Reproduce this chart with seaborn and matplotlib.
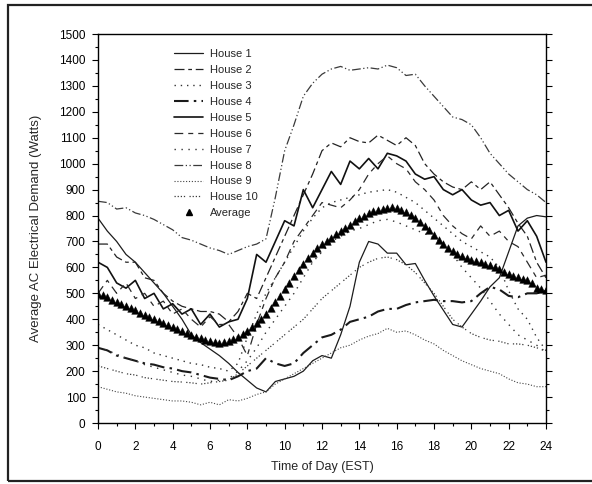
import numpy as np
import pandas as pd
import matplotlib
matplotlib.use("Agg")
import matplotlib.pyplot as plt
import seaborn as sns
from matplotlib.lines import Line2D
from matplotlib.patches import Rectangle
from matplotlib.ticker import MultipleLocator

# Half-hourly readings for each house, 00:00 to 24:00
hours = np.arange(0, 24.01, 0.5)
# Quarter-hourly grid for the fleet average
hours_avg = np.arange(0, 24.01, 0.25)

house_1 = [790, 740, 700, 650, 620, 580, 540, 500, 450, 400, 340, 310, 285, 260, 230, 195, 165, 135, 120, 160,
           170, 180, 200, 240, 260, 250, 340, 450, 620, 700, 690, 655, 655, 610, 615, 550, 490, 435, 380, 370,
           420, 470, 525, 560, 660, 760, 790, 800, 795]
house_2 = [690, 690, 640, 620, 620, 560, 550, 500, 470, 450, 440, 430, 430, 420, 390, 430, 500, 480, 560, 640,
           720, 800, 880, 960, 1050, 1080, 1065, 1100, 1085, 1080, 1110, 1090, 1070, 1100, 1070, 1000, 960, 930,
           910, 900, 930, 900, 930, 880, 830, 770, 720, 620, 560]
house_3 = [380, 360, 340, 320, 300, 290, 270, 260, 250, 240, 230, 225, 215, 210, 200, 230, 330, 420, 500, 560,
           620, 680, 740, 790, 830, 850, 860, 870, 880, 890, 895, 900, 890, 870, 850, 820, 790, 760, 730, 700,
           680, 660, 640, 600, 510, 440, 400, 330, 280]
house_4 = [290, 280, 260, 250, 240, 230, 225, 215, 210, 200, 195, 185, 175, 170, 165, 180, 200, 210, 250, 230,
           220, 230, 270, 300, 330, 340, 360, 390, 400, 410, 430, 440, 440, 455, 465, 470, 475, 470, 470, 465,
           470, 500, 525, 515, 490, 485, 500, 500, 510]
house_5 = [620, 600, 540, 520, 550, 480, 500, 440, 460, 420, 440, 380, 420, 370, 390, 400, 480, 650, 620, 700,
           780, 760, 900, 830, 900, 970, 920, 1010, 980, 1020, 980, 1040, 1030, 1010, 960, 940, 950, 900, 880,
           900, 860, 840, 850, 800, 820, 740, 780, 720, 620]
house_6 = [500, 550, 500, 540, 480, 500, 450, 470, 420, 440, 400, 370, 410, 380, 380, 330, 260, 380, 480, 560,
           620, 700, 750, 800, 850, 840, 830, 860, 900, 960, 1000, 1030, 1000, 980, 930, 900, 860, 800, 760, 730,
           710, 760, 720, 740, 700, 680, 620, 560, 570]
house_7 = [290, 280, 265, 250, 240, 225, 215, 205, 195, 185, 180, 170, 160, 165, 170, 200, 240, 290, 350, 400,
           450, 500, 560, 620, 660, 700, 720, 740, 750, 765, 780, 785, 775, 760, 745, 730, 715, 690, 650, 600,
           560, 520, 470, 420, 380, 340, 320, 300, 270]
house_8 = [855, 850, 825, 830, 810, 800, 785, 765, 745, 715, 705, 690, 675, 665, 650, 665, 680, 690, 710, 870,
           1050, 1150, 1260, 1310, 1345, 1365, 1375, 1360, 1365, 1370, 1365, 1380, 1370, 1340, 1345, 1300, 1260,
           1220, 1180, 1170, 1150, 1100, 1040, 1000, 960, 930, 900, 880, 850]
house_9 = [140, 130, 120, 115, 105, 100, 95, 90, 85, 85, 80, 70, 80, 70, 90, 85, 95, 110, 120, 150,
           170, 190, 210, 230, 250, 270, 290, 300, 320, 335, 345, 365, 350, 355, 340, 320, 305, 280, 260, 240,
           225, 210, 200, 190, 170, 155, 150, 140, 140]
house_10 = [220, 210, 200, 190, 185, 175, 170, 165, 160, 158, 155, 150, 155, 160, 165, 190, 220, 250, 280, 310,
            340, 370, 400, 440, 480, 510, 540, 570, 600, 620, 635, 640, 630, 610, 580, 540, 500, 450, 400, 370,
            345, 330, 320, 315, 305, 305, 300, 290, 280]

average = [497, 493, 485, 476, 468, 460, 452, 443, 435, 426, 417, 408, 400, 392, 385, 377,
           370, 362, 355, 347, 340, 333, 327, 321, 315, 312, 310, 313, 318, 324, 332, 342,
           355, 369, 385, 402, 420, 442, 465, 490, 515, 540, 565, 590, 615, 636, 655, 673,
           690, 703, 715, 728, 740, 752, 765, 778, 790, 800, 808, 816, 822, 827, 830, 831,
           830, 822, 812, 802, 790, 775, 760, 743, 725, 707, 690, 675, 662, 652, 645, 637,
           630, 625, 620, 614, 608, 600, 592, 583, 575, 568, 562, 556, 550, 540, 522, 516, 512]

house_names = [f"House {i}" for i in range(1, 11)]
house_series = [house_1, house_2, house_3, house_4, house_5,
                house_6, house_7, house_8, house_9, house_10]

# line style per house: (dash pattern, width, colour)
styles = [
    ("-", 0.9, "#1c1c1c"),
    ((0, (8, 3, 3, 3)), 0.9, "#222222"),
    ((0, (1, 3.5)), 1.0, "#333333"),
    ((0, (7, 2.5, 1.2, 2.5)), 1.5, "#1a1a1a"),
    ("-", 1.2, "#111111"),
    ((0, (7, 4, 4, 4)), 0.9, "#2a2a2a"),
    ((0, (1, 4)), 1.0, "#333333"),
    ((0, (7, 2, 1, 2, 1, 2)), 0.9, "#3a3a3a"),
    ((0, (1, 1.6)), 0.8, "#444444"),
    ((0, (1, 1.5, 1, 1.5, 1, 1.5, 1, 3.5)), 0.9, "#3a3a3a"),
]

frames = [pd.DataFrame({"hour": hours, "watts": vals, "house": name})
          for name, vals in zip(house_names, house_series)]
df = pd.concat(frames, ignore_index=True)
avg_df = pd.DataFrame({"hour": hours_avg, "watts": average})

sns.set_theme(style="white")
plt.rcParams["font.family"] = ["Liberation Sans", "DejaVu Sans"]

fig = plt.figure(figsize=(5.92, 4.84), dpi=100)
ax = fig.add_axes([98 / 592, 1 - 423 / 484, 448 / 592, 389 / 484])

for name, (ls, lw, col) in zip(house_names, styles):
    sub = df[df["house"] == name]
    sns.lineplot(data=sub, x="hour", y="watts", ax=ax, color=col,
                 linewidth=lw, linestyle=ls, legend=False)

sns.scatterplot(data=avg_df, x="hour", y="watts", ax=ax, marker="^",
                s=30, color="black", edgecolor="black", linewidth=0.3,
                legend=False, zorder=5)

ax.set_xlim(0, 24)
ax.set_ylim(0, 1500)
ax.xaxis.set_major_locator(MultipleLocator(2))
ax.xaxis.set_minor_locator(MultipleLocator(1))
ax.yaxis.set_major_locator(MultipleLocator(100))
ax.yaxis.set_minor_locator(MultipleLocator(50))

for sp in ax.spines.values():
    sp.set_color("black")
    sp.set_linewidth(1.0)

ax.tick_params(axis="both", which="both", direction="out", colors="black",
               left=True, right=True, bottom=True, top=False,
               labelright=False, width=0.8)
ax.tick_params(axis="both", which="major", length=4, labelsize=8.5)
ax.tick_params(axis="both", which="minor", length=2.2)
ax.tick_params(axis="x", which="major", pad=9)
ax.tick_params(axis="y", which="major", pad=5)

ax.set_xlabel("Time of Day (EST)", fontsize=9, labelpad=6)
ax.set_ylabel("Average AC Electrical Demand (Watts)", fontsize=9.5, labelpad=12)

handles = [Line2D([0], [0], color=col, linewidth=lw, linestyle=ls)
           for (ls, lw, col) in styles]
handles.append(Line2D([0], [0], marker="^", linestyle="none", color="black",
                      markersize=4.5))
leg = ax.legend(handles, house_names + ["Average"], loc="upper left",
                bbox_to_anchor=(0.16, 0.972), frameon=False, fontsize=8,
                handlelength=2.6, handletextpad=0.6, labelspacing=0.53,
                borderaxespad=0)

# scanned-page border around the figure
fig.patches.append(Rectangle((8 / 592, 1 - 481 / 484), 600 / 592, 476 / 484,
                             transform=fig.transFigure, fill=False,
                             edgecolor="#222222", linewidth=1.6))

fig.savefig("out.png", dpi=100)
